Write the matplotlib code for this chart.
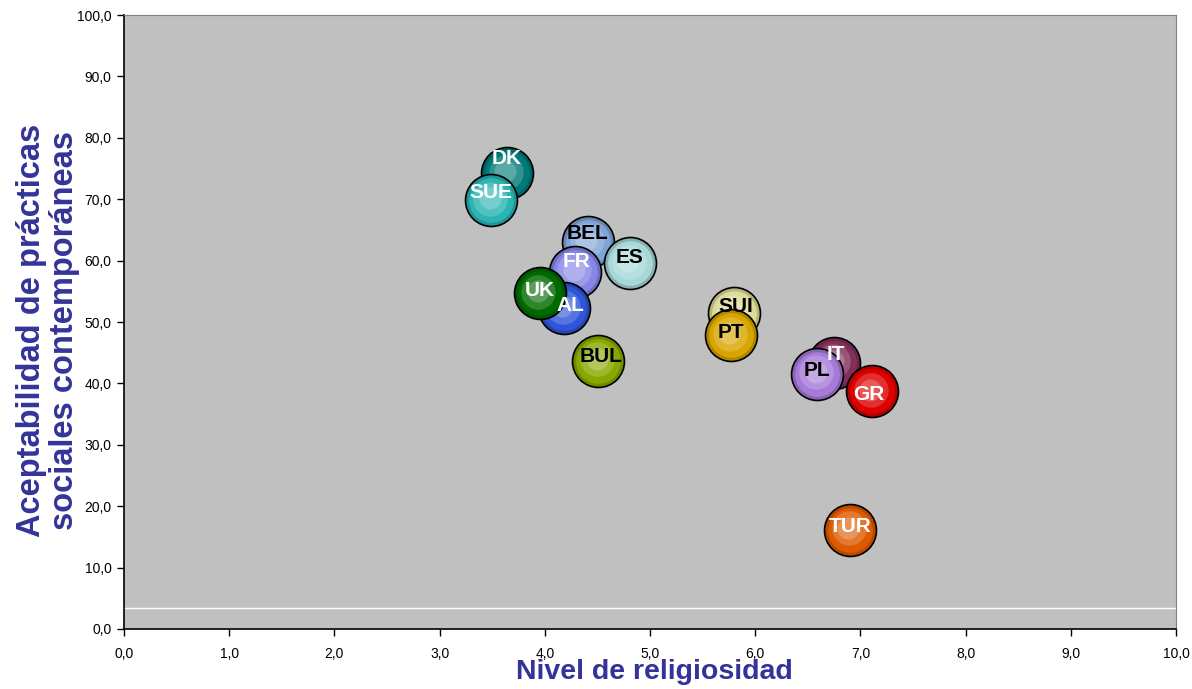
import matplotlib.pyplot as plt
import matplotlib.colors as mcolors
import numpy as np

# country data: religiosity level vs. acceptance of contemporary social practices
countries = ['DK', 'BEL', 'ES', 'FR', 'AL', 'UK', 'SUE', 'BUL',
             'SUI', 'PT', 'IT', 'PL', 'GR', 'TUR']
religiosidad = [3.64, 4.41, 4.81, 4.29, 4.18, 3.95, 3.49, 4.51,
                5.80, 5.77, 6.75, 6.59, 7.11, 6.90]
aceptabilidad = [74.3, 63.1, 59.6, 58.2, 52.3, 54.7, 69.9, 43.7,
                 51.4, 47.9, 43.4, 41.6, 38.7, 16.2]
baseline = 3.4

bubble_colors = ['#007a78', '#7fa4d6', '#a6d8d8', '#8585e6', '#2f55d8', '#006a00',
                 '#2ab4b4', '#88a800', '#dcdc98', '#d8a400', '#82305a', '#a67ad8',
                 '#dd0000', '#dd5a00']
label_colors = ['white', 'black', 'black', 'white', 'white', 'white', 'white', 'black',
                'black', 'black', 'white', 'black', 'white', 'white']
# label nudges in points (dx, dy)
label_offsets = {'DK': (0, 10), 'SUE': (0, 5), 'BEL': (0, 6), 'ES': (0, 4), 'FR': (1, 7),
                 'AL': (5, 2), 'BUL': (2, 3), 'SUI': (1, 5), 'IT': (1, 6), 'GR': (-2, -2)}

axis_color = '#333399'

fig = plt.figure(figsize=(11.92, 6.89), dpi=100)
ax = fig.add_axes([0.104, 0.0871, 0.8826, 0.8911])
ax.set_facecolor('#c0c0c0')

ax.axhline(baseline, color='white', lw=1.0, zorder=1)

size = 1400
for i, name in enumerate(countries):
    x, y = religiosidad[i], aceptabilidad[i]
    base = np.array(mcolors.to_rgb(bubble_colors[i]))
    z = 3 + i * 0.1
    # shaded sphere: darker rim, lighter core
    ax.scatter(x, y, s=size, color=base * 0.82, edgecolors='black', linewidths=1.2, zorder=z)
    ax.scatter(x, y, s=size * 0.74, color=base, linewidths=0, zorder=z + 0.01)
    ax.scatter(x - 0.01, y + 0.2, s=size * 0.44, color=base * 0.82 + 0.18, linewidths=0, zorder=z + 0.02)
    ax.scatter(x - 0.015, y + 0.3, s=size * 0.18, color=base * 0.65 + 0.35, linewidths=0, zorder=z + 0.03)

for i, name in enumerate(countries):
    dx, dy = label_offsets.get(name, (0, 2))
    ax.annotate(name, (religiosidad[i], aceptabilidad[i]), xytext=(dx, dy),
                textcoords='offset points', ha='center', va='center',
                fontsize=15, fontweight='bold', color=label_colors[i],
                family='Liberation Sans', zorder=10)

ax.set_xlim(0, 10)
ax.set_ylim(0, 100)
ax.set_xticks(np.arange(0, 10.01, 1))
ax.set_yticks(np.arange(0, 100.1, 10))
ax.set_xticklabels([f'{v:.1f}'.replace('.', ',') for v in np.arange(0, 10.01, 1)])
ax.set_yticklabels([f'{v:.1f}'.replace('.', ',') for v in np.arange(0, 100.1, 10)])
ax.tick_params(direction='out', length=5, width=1, labelsize=10, colors='black', pad=4)
ax.tick_params(axis='x', pad=8)
for lbl in ax.get_xticklabels() + ax.get_yticklabels():
    lbl.set_family('Liberation Sans')

ax.spines['left'].set_color('black')
ax.spines['bottom'].set_color('black')
ax.spines['left'].set_linewidth(1.2)
ax.spines['bottom'].set_linewidth(1.2)
ax.spines['top'].set_color('#808080')
ax.spines['right'].set_color('#808080')

fig.text(0.549, 0.025, 'Nivel de religiosidad', fontsize=20.5, fontweight='bold',
         color=axis_color, family='Liberation Sans', ha='center', va='center')
fig.text(0.0405, 0.521, 'Aceptabilidad de prácticas\nsociales contemporáneas', fontsize=23.5,
         fontweight='bold', color=axis_color, family='Liberation Sans', rotation=90,
         ha='center', va='center', multialignment='center', linespacing=1.08)

fig.savefig('out.png', dpi=100)
